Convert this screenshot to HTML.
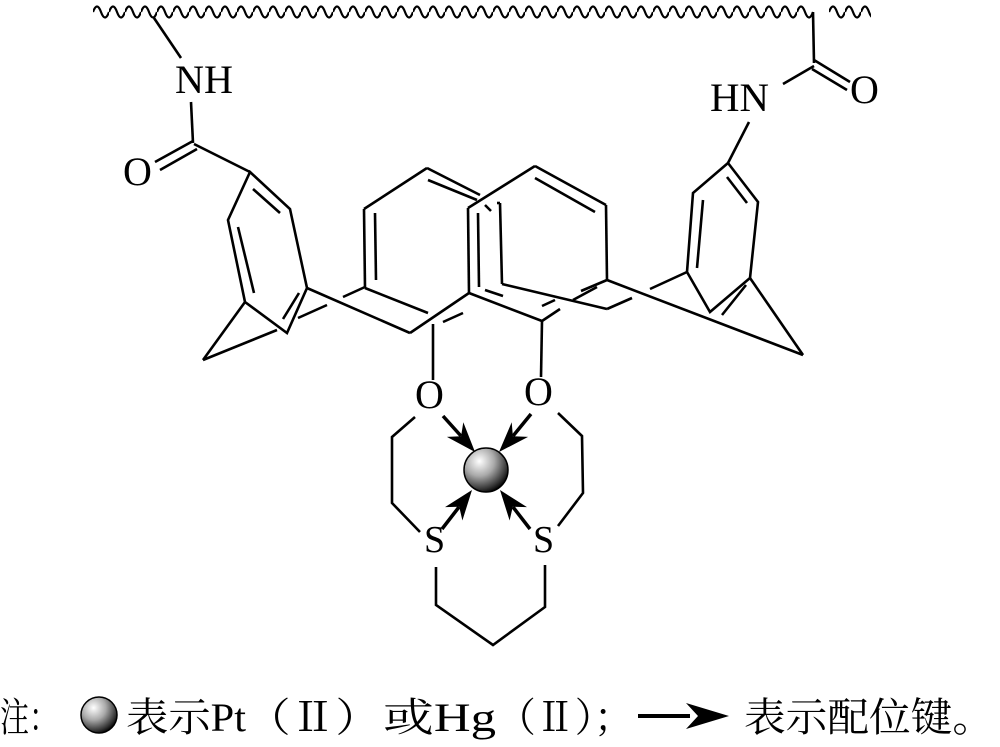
<!DOCTYPE html>
<html><head><meta charset="utf-8"><style>
html,body{margin:0;padding:0;background:#fff}
svg{display:block}
text{font-family:"Liberation Serif","Noto Serif CJK SC",serif;fill:#000}
</style></head><body>
<svg width="1000" height="747" viewBox="0 0 1000 747" xmlns="http://www.w3.org/2000/svg">
<defs>
<pattern id="wave" patternUnits="userSpaceOnUse" x="93" y="1" width="16" height="22">
<path d="M0,11 q4,-11 8,0 q4,11 8,0" fill="none" stroke="#000" stroke-width="2.2"/>
</pattern>
<radialGradient id="ball" cx="0.35" cy="0.3" r="0.75">
<stop offset="0" stop-color="#fff"/>
<stop offset="0.45" stop-color="#aaa"/>
<stop offset="0.85" stop-color="#333"/>
<stop offset="1" stop-color="#000"/>
</radialGradient>
</defs>
<rect x="93" y="1" width="720" height="22" fill="url(#wave)"/>
<rect x="829" y="1" width="42" height="22" fill="url(#wave)"/>
<g fill="none" stroke="#000" stroke-width="2.6" stroke-linecap="butt">
<line x1="154" y1="18" x2="181" y2="58"/>
<line x1="191" y1="102" x2="193" y2="143"/>
<line x1="193" y1="141" x2="155" y2="162"/>
<line x1="197" y1="149" x2="160" y2="170"/>
<line x1="194" y1="144" x2="250" y2="172"/>
<polygon points="250,172 290,209 307,288 287,333 245,302 228,220"/>
<line x1="253" y1="189" x2="280" y2="213"/>
<line x1="238" y1="227" x2="254" y2="293"/>
<line x1="283" y1="319" x2="299" y2="293"/>
<line x1="245" y1="302" x2="203" y2="360"/>
<line x1="203" y1="360" x2="277" y2="330"/>
<line x1="298" y1="318" x2="327" y2="305"/>
<line x1="343" y1="297" x2="365" y2="287"/>
<line x1="307" y1="288" x2="410" y2="333"/>
<line x1="364" y1="209" x2="427" y2="168"/>
<line x1="427" y1="168" x2="480" y2="195"/>
<line x1="428" y1="180" x2="477" y2="200"/>
<line x1="485" y1="205" x2="491" y2="211"/>
<line x1="497" y1="203" x2="500" y2="203"/>
<line x1="500" y1="203" x2="502" y2="284"/>
<line x1="364" y1="209" x2="365" y2="288"/>
<line x1="375" y1="213" x2="376" y2="280"/>
<line x1="365" y1="288" x2="428" y2="313"/>
<line x1="410" y1="333" x2="469" y2="293"/>
<line x1="443" y1="322" x2="463" y2="313"/>
<line x1="468" y1="208" x2="535" y2="166"/>
<line x1="535" y1="166" x2="606" y2="205"/>
<line x1="535" y1="178" x2="595" y2="212"/>
<line x1="606" y1="205" x2="607" y2="280"/>
<line x1="468" y1="208" x2="469" y2="293"/>
<line x1="478" y1="213" x2="479" y2="287"/>
<line x1="469" y1="293" x2="542" y2="321"/>
<line x1="485" y1="290" x2="503" y2="296"/>
<line x1="542" y1="321" x2="560" y2="309"/>
<line x1="542" y1="306" x2="555" y2="300"/>
<line x1="573" y1="300" x2="597" y2="287"/>
<line x1="581" y1="291" x2="607" y2="280"/>
<line x1="502" y1="284" x2="607" y2="309"/>
<line x1="607" y1="309" x2="632" y2="298"/>
<line x1="650" y1="289" x2="687" y2="272"/>
<line x1="607" y1="280" x2="803" y2="355"/>
<polygon points="728,163 758,202 750,278 710,312 687,272 693,193"/>
<line x1="727" y1="177" x2="747" y2="203"/>
<line x1="703" y1="200" x2="697" y2="268"/>
<line x1="722" y1="315" x2="746" y2="285"/>
<line x1="750" y1="278" x2="803" y2="355"/>
<line x1="813" y1="12" x2="814" y2="63"/>
<line x1="814" y1="60" x2="850" y2="82"/>
<line x1="812" y1="69" x2="847" y2="90"/>
<line x1="814" y1="66" x2="783" y2="84"/>
<line x1="749" y1="122" x2="728" y2="163"/>
<line x1="433" y1="324" x2="433" y2="380"/>
<line x1="542" y1="321" x2="541" y2="377"/>
<polyline points="415,417 392,437 392,503 420,532"/>
<polyline points="558,413 582,436 583,493 558,526"/>
<polyline points="436,567 436,605 493,645 545,607 545,565"/>
<line x1="443" y1="416" x2="461" y2="436" stroke-width="3.5"/>
<line x1="531" y1="414" x2="513" y2="436" stroke-width="3.5"/>
<line x1="442" y1="529" x2="459" y2="507" stroke-width="3.5"/>
<line x1="530" y1="529" x2="513" y2="507" stroke-width="3.5"/>
</g>
<g fill="#000">
<path d="M475,452 L446.9,436.9 L461.1,436.3 L463.3,422.3 Z"/>
<path d="M499,452 L511.7,422.3 L512.9,436.3 L528.1,436.9 Z"/>
<path d="M472,490 L462.4,520.5 L459.2,506.7 L445,507.1 Z"/>
<path d="M500,490 L527,507.1 L512.8,506.7 L509.6,520.5 Z"/>
</g>
<circle cx="486" cy="470" r="22" fill="url(#ball)" stroke="#000" stroke-width="1.5"/>
<g font-size="40">
<text x="175" y="93" textLength="58" lengthAdjust="spacingAndGlyphs">NH</text>
<text x="123" y="185">O</text>
<text x="710" y="111" textLength="59" lengthAdjust="spacingAndGlyphs">HN</text>
<text x="850" y="103">O</text>
<text x="415" y="408">O</text>
<text x="524" y="405">O</text>
<text x="424" y="552" font-size="38">S</text>
<text x="533" y="552" font-size="38">S</text>
</g>
<g font-size="40">
<text x="0" y="731" textLength="58" lengthAdjust="spacingAndGlyphs">注：</text>
<text x="126" y="731" textLength="120" lengthAdjust="spacingAndGlyphs">表示Pt</text>
<text x="246" y="731" textLength="134" lengthAdjust="spacingAndGlyphs">（Ⅱ）</text>
<text x="383" y="731" textLength="113" lengthAdjust="spacingAndGlyphs">或Hg</text>
<text x="497" y="731" textLength="136" lengthAdjust="spacingAndGlyphs">（Ⅱ）；</text>
<text x="744" y="731" textLength="250" lengthAdjust="spacingAndGlyphs">表示配位键。</text>
</g>
<circle cx="99" cy="715" r="18" fill="url(#ball)" stroke="#000" stroke-width="1.5"/>
<line x1="638" y1="716" x2="690" y2="716" stroke="#000" stroke-width="4"/>
<path d="M729,716 L686,703 L698,716 L686,729 Z" fill="#000"/>
</svg>
</body></html>
